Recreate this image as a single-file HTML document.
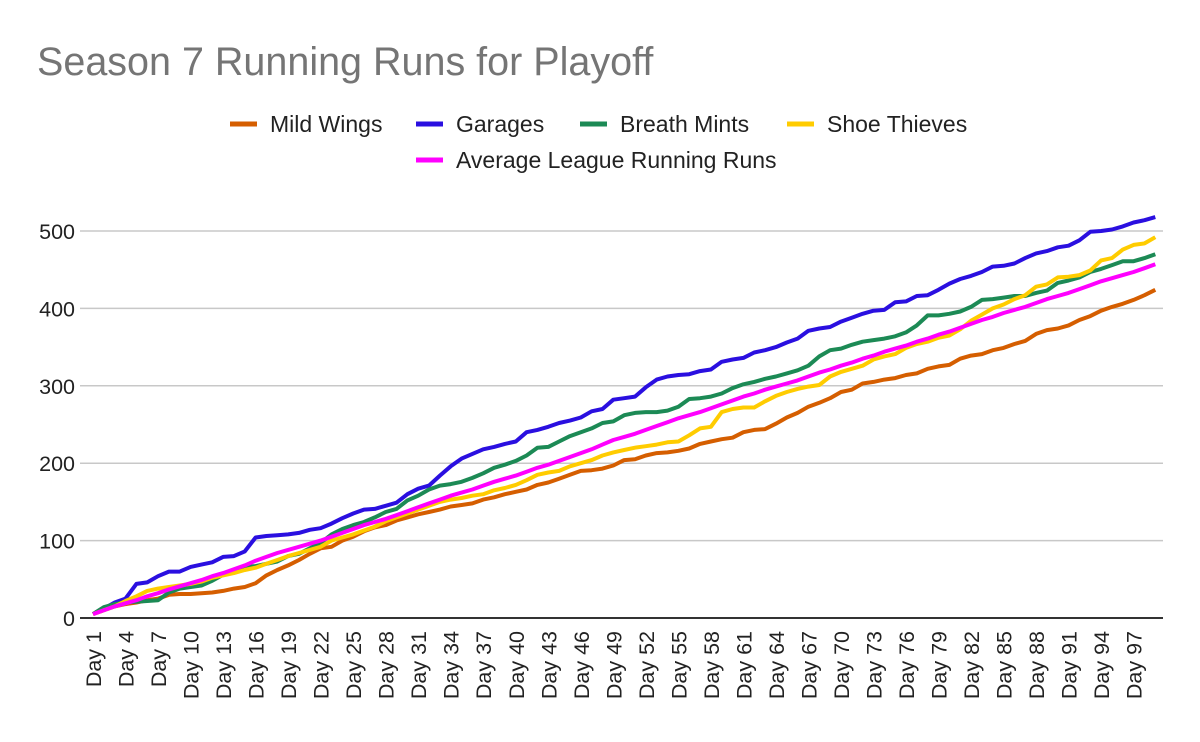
<!DOCTYPE html>
<html><head><meta charset="utf-8"><style>
body{margin:0;background:#fff;font-family:"Liberation Sans",Arial,sans-serif}
svg{display:block}
</style></head><body>
<svg id="chart" width="1200" height="742">
<rect width="1200" height="742" fill="#fff"/>
<text x="37" y="75" font-size="39.5" fill="#757575">Season 7 Running Runs for Playoff</text>
<g id="legend" fill="#222"></g>
<g id="grid"></g><g id="series"></g><g id="xlabels"></g>
</svg>
<script>
const days = Array.from({length:99},(_,i)=>'Day '+(i+1));
const yTicks = [0,100,200,300,400,500];
const seriesNames = ['Mild Wings','Garages','Breath Mints','Shoe Thieves','Average League Running Runs'];
const seriesColors = ['#d55e00','#2a0fe0','#1c8a55','#ffcc00','#ff00ff'];
const mildWings = [5,10,15,18,20,23,25,30,31,31,32,33,35,38,40,45,55,62,68,75,83,90,92,100,105,112,117,120,126,130,134,137,140,144,146,148,153,156,160,163,166,172,175,180,185,190,191,193,197,204,205,210,213,214,216,219,225,228,231,233,240,243,244,251,259,265,273,278,284,292,295,303,305,308,310,314,316,322,325,327,335,339,341,346,349,354,358,367,372,374,378,385,390,397,402,406,411,417,424];
const garages = [5,12,20,25,44,46,54,60,60,66,69,72,79,80,86,104,106,107,108,110,114,116,122,129,135,140,141,145,149,160,167,171,184,196,206,212,218,221,225,228,240,243,247,252,255,259,267,270,282,284,286,298,308,312,314,315,319,321,331,334,336,343,346,350,356,361,371,374,376,383,388,393,397,398,408,409,416,417,424,432,438,442,447,454,455,458,465,471,474,479,481,488,499,500,502,506,511,514,518];
const breathMints = [5,14,18,20,21,22,23,33,38,40,42,48,56,62,66,67,70,73,80,83,90,97,108,115,120,124,130,137,141,152,158,166,171,173,176,181,187,194,198,203,210,220,221,228,235,240,245,252,254,262,265,266,266,268,273,283,284,286,290,297,302,305,309,312,316,320,326,338,346,348,353,357,359,361,364,369,378,391,391,393,396,402,411,412,414,416,416,420,423,433,436,440,447,451,456,461,461,465,470];
const shoeThieves = [5,10,15,22,28,35,38,40,42,44,47,52,55,58,62,65,70,75,80,84,88,92,100,104,108,113,118,125,130,135,140,145,150,153,155,158,160,165,168,172,178,185,188,190,196,200,204,210,214,217,220,222,224,227,228,236,245,247,266,270,272,272,280,287,292,296,299,301,312,318,322,326,334,338,341,349,354,357,362,365,373,384,392,400,405,412,417,428,431,440,441,443,449,462,465,476,482,484,492];
const average = [5,10,15,19,23,28,32,37,41,45,49,54,58,63,68,74,79,84,88,92,96,100,105,110,115,120,124,128,133,138,143,148,153,158,162,166,171,176,180,184,189,194,198,203,208,213,218,224,230,234,238,243,248,253,258,262,266,271,276,281,286,290,295,299,303,307,312,317,321,326,330,335,339,344,348,352,357,361,366,370,375,380,385,389,394,398,402,407,412,416,420,425,430,435,439,443,447,452,457];
const allSeries = [mildWings,garages,breathMints,shoeThieves,average];

const NS='http://www.w3.org/2000/svg';
const X0=93, DX=10.84, Y0=618, YS=0.774;
const xs=i=>X0+i*DX, ys=v=>Y0-v*YS;
function mk(tag,attrs,parent){const e=document.createElementNS(NS,tag);for(const k in attrs)e.setAttribute(k,attrs[k]);parent.appendChild(e);return e;}
const grid=document.getElementById('grid');
yTicks.forEach(t=>{
  const l=mk('line',{x1:80,x2:1163,y1:ys(t),y2:ys(t),stroke:t===0?'#333':'#c8c8c8','stroke-width':t===0?2:1.5},grid);
  
  
  const tx=mk('text',{x:75,y:ys(t)+8,'text-anchor':'end','font-size':21.5,fill:'#222'},grid);
  tx.textContent=t;
  
  
});
const xl=document.getElementById('xlabels');
days.forEach((d,i)=>{
  if(i%3!==0)return;
  const t=mk('text',{x:0,y:0,'text-anchor':'end','font-size':21.5,fill:'#222',transform:`translate(${xs(i)+8},631) rotate(-90)`},xl);
  t.textContent=d;
  
  
});
const sg=document.getElementById('series');
allSeries.forEach((arr,s)=>{
  const p=mk('polyline',{points:arr.map((v,i)=>xs(i).toFixed(1)+','+ys(v).toFixed(1)).join(' '),fill:'none',stroke:seriesColors[s],'stroke-width':4,'stroke-linejoin':'round'},sg);
  
  
});
const lg=document.getElementById('legend');
const legPos=[[230,124],[416,124],[580,124],[787,124],[416,160]];
seriesNames.forEach((n,s)=>{
  const [x,y]=legPos[s];
  const g=mk('g',{},lg);
  
  
  mk('line',{x1:x,x2:x+27,y1:y,y2:y,stroke:seriesColors[s],'stroke-width':5},g);
  const t=mk('text',{x:x+40,y:y+8,'font-size':23,fill:'#222'},g);
  t.textContent=n;
});
</script>
</body></html>
